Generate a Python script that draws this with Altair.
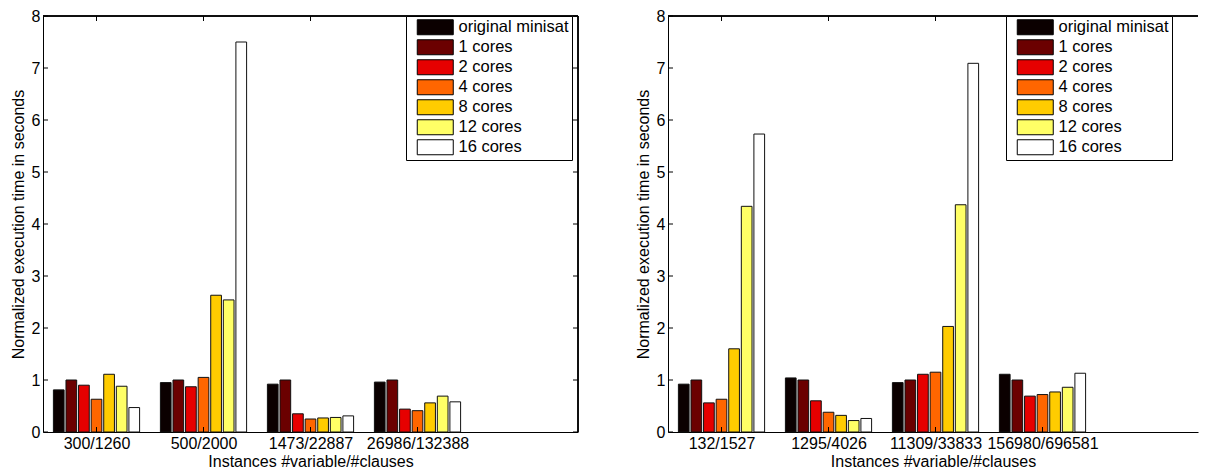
import altair as alt
import pandas as pd

NB = "\u00a0"
series = ["original minisat", "1 cores", "2 cores", "4 cores", "8 cores", "12 cores", "16 cores"]
legend_labels = ["original minisat", NB * 4 + "1 cores", NB * 4 + "2 cores", NB * 4 + "4 cores",
                 NB * 4 + "8 cores", NB * 2 + "12 cores", NB * 2 + "16 cores"]
colors = ["#0b0000", "#6b0000", "#e60000", "#ff6600", "#ffcc00", "#ffff66", "#ffffff"]

left_instances = ["300/1260", "500/2000", "1473/22887", "26986/132388"]
left_original = [0.81, 0.95, 0.92, 0.96]
left_c1 = [1.00, 1.00, 1.00, 1.00]
left_c2 = [0.90, 0.87, 0.35, 0.44]
left_c4 = [0.63, 1.05, 0.25, 0.41]
left_c8 = [1.11, 2.63, 0.27, 0.56]
left_c12 = [0.88, 2.54, 0.28, 0.69]
left_c16 = [0.47, 7.50, 0.31, 0.58]

right_instances = ["132/1527", "1295/4026", "11309/33833", "156980/696581"]
right_original = [0.92, 1.04, 0.95, 1.11]
right_c1 = [1.00, 1.00, 1.00, 1.00]
right_c2 = [0.56, 0.60, 1.11, 0.69]
right_c4 = [0.63, 0.38, 1.15, 0.72]
right_c8 = [1.60, 0.32, 2.03, 0.77]
right_c12 = [4.34, 0.22, 4.37, 0.86]
right_c16 = [5.73, 0.26, 7.09, 1.13]

y_ticks = [0, 1, 2, 3, 4, 5, 6, 7, 8]
FONT = "Liberation Sans"
FS = 16
PX_PER_UNIT = 107.0
H = 416


def make_df(instances, cols):
    rows = []
    for s, vals in enumerate(cols):
        for g, v in enumerate(vals):
            rows.append({"group": g + 1, "sidx": s, "label": legend_labels[s], "value": v,
                         "instance": instances[g]})
    return pd.DataFrame(rows)


def panel(instances, cols, width, legend_x, right_border=True):
    df = make_df(instances, cols)
    xmax = 0.5 + width / PX_PER_UNIT
    xscale = alt.Scale(domain=[0.5, xmax], nice=False, zero=False)
    yscale = alt.Scale(domain=[0, 8], nice=False, zero=True)
    label_expr = "[" + ",".join("'%s'" % s for s in instances) + "][datum.value - 1]"
    xaxis = alt.Axis(values=[1, 2, 3, 4], labelExpr=label_expr,
                     title="Instances #variable/#clauses", ticks=False, grid=False,
                     labelFontSize=FS, titleFontSize=FS, labelPadding=3, titlePadding=2,
                     labelFont=FONT, titleFont=FONT, titleFontWeight="normal",
                     labelColor="black", titleColor="black",
                     domainColor="black", labelOverlap=False)
    yaxis = alt.Axis(values=y_ticks, title="Normalized execution time in seconds",
                     ticks=False, grid=False, labelFontSize=FS, titleFontSize=FS,
                     labelPadding=3, titlePadding=5, labelFont=FONT, titleFont=FONT,
                     titleFontWeight="normal", labelColor="black", titleColor="black",
                     domainColor="black")

    bars = alt.Chart(df).transform_calculate(
        xs="datum.group + (datum.sidx - 3) * 0.1176 - 0.05",
        xe="datum.group + (datum.sidx - 3) * 0.1176 + 0.05",
        zero="0",
    ).mark_rect(stroke="#111111", strokeWidth=1).encode(
        x=alt.X("xs:Q", scale=xscale, axis=xaxis),
        x2="xe:Q",
        y=alt.Y("value:Q", scale=yscale, axis=yaxis),
        y2="zero:Q",
        color=alt.Color("label:N", scale=alt.Scale(domain=legend_labels, range=colors),
                        sort=legend_labels,
                        legend=alt.Legend(title=None, orient="none", legendX=legend_x, legendY=0,
                                          symbolType="M0,-1L4.8,-1L4.8,1L0,1Z",
                                          symbolSize=225, symbolStrokeColor="black",
                                          symbolStrokeWidth=1, symbolOpacity=1,
                                          labelFontSize=16.5, labelFont=FONT, labelColor="black",
                                          labelOffset=33, rowPadding=0, padding=3,
                                          strokeColor="black", fillColor="white")),
    )

    tick_df = pd.DataFrame({"v": y_ticks})
    grp_df = pd.DataFrame({"g": [1, 2, 3, 4]})
    yl = alt.Chart(tick_df).mark_rule(color="black").encode(
        y=alt.Y("v:Q", scale=yscale, axis=yaxis), x=alt.value(0), x2=alt.value(5))
    xb = alt.Chart(grp_df).mark_rule(color="black").encode(
        x=alt.X("g:Q", scale=xscale, axis=xaxis), y=alt.value(H - 5), y2=alt.value(H))
    xt = alt.Chart(grp_df).mark_rule(color="black").encode(
        x=alt.X("g:Q", scale=xscale, axis=xaxis), y=alt.value(0), y2=alt.value(5))
    top = alt.Chart(grp_df).mark_rule(color="black").encode(
        x=alt.value(0), x2=alt.value(width), y=alt.value(0))
    layers = [bars, yl, xb, xt, top]
    if right_border:
        yr = alt.Chart(tick_df).mark_rule(color="black").encode(
            y=alt.Y("v:Q", scale=yscale, axis=yaxis), x=alt.value(width - 5), x2=alt.value(width))
        rb = alt.Chart(grp_df).mark_rule(color="black").encode(
            x=alt.value(width), y=alt.value(0), y2=alt.value(H))
        layers += [yr, rb]
    return alt.layer(*layers).properties(width=width, height=H)


left = panel(left_instances,
             [left_original, left_c1, left_c2, left_c4, left_c8, left_c12, left_c16],
             535, 363)
right = panel(right_instances,
              [right_original, right_c1, right_c2, right_c4, right_c8, right_c12, right_c16],
              530, 338, right_border=False)

chart = alt.hconcat(left, right, spacing=56).resolve_scale(
    color="independent", x="independent", y="independent"
).properties(
    padding={"left": 2, "top": 0, "right": 0, "bottom": 0},
    background="white",
).configure_view(stroke="transparent", strokeWidth=0)

chart.save("out.html", embed_options={"renderer": "svg", "actions": False})
